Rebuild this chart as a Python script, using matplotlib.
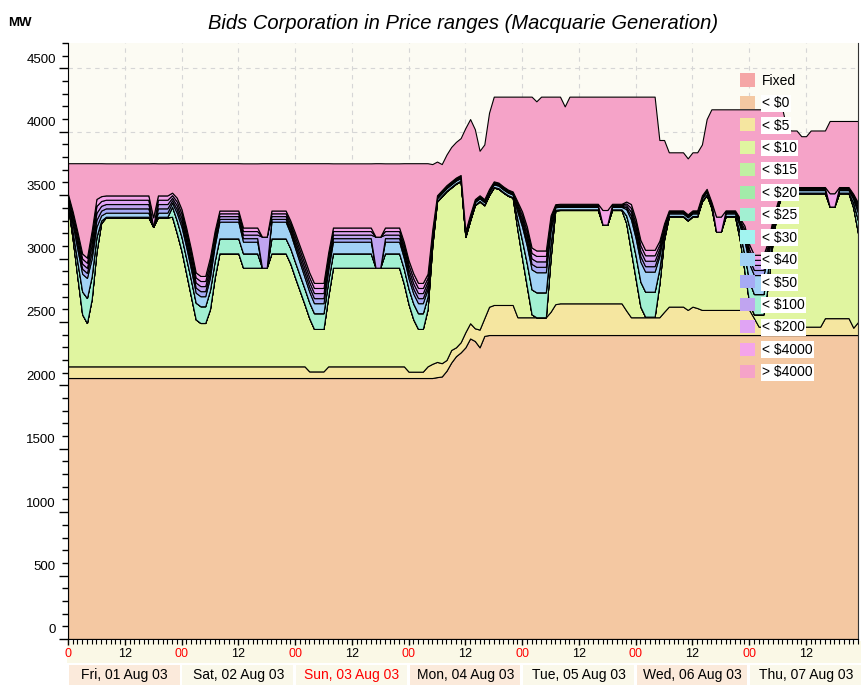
import numpy as np
import matplotlib
matplotlib.use("Agg")
import matplotlib.pyplot as plt
import matplotlib.transforms as mtransforms
from matplotlib.patches import Patch, Rectangle

plt.rcParams["font.family"] = ["Liberation Sans", "DejaVu Sans"]

# hourly samples, Fri 01 Aug 03 00:00 -> Thu 07 Aug 03 23:00
hours = np.arange(168)

bands = ["Fixed", r"< \$0", r"< \$5", r"< \$10", r"< \$15", r"< \$20", r"< \$25",
         r"< \$30", r"< \$40", r"< \$50", r"< \$100", r"< \$200", r"< \$4000", r"> \$4000"]
band_colors = ["#f5a6a6", "#f4c8a2", "#f5e6a0", "#e0f5a0", "#bff0a2", "#a2eba9",
               "#a2f0d2", "#a2f4f0", "#a2d2f5", "#a6aaf5", "#c0a4f0", "#e0a4f4",
               "#f4a4ea", "#f5a3c8"]

day_labels = ["Fri, 01 Aug 03", "Sat, 02 Aug 03", "Sun, 03 Aug 03", "Mon, 04 Aug 03",
              "Tue, 05 Aug 03", "Wed, 06 Aug 03", "Thu, 07 Aug 03"]

# MW offered in each price band (one row of 12 = half a day)
fixed = [0] * 168

lt0 = [2058, 2058, 2058, 2058, 2058, 2058, 2058, 2058, 2058, 2058, 2058, 2058,
       2058, 2058, 2058, 2058, 2058, 2058, 2058, 2058, 2058, 2058, 2058, 2058,
       2058, 2058, 2058, 2058, 2058, 2058, 2058, 2058, 2058, 2058, 2058, 2058,
       2058, 2058, 2058, 2058, 2058, 2058, 2058, 2058, 2058, 2058, 2058, 2058,
       2058, 2058, 2058, 2058, 2058, 2058, 2058, 2058, 2058, 2058, 2058, 2058,
       2058, 2058, 2058, 2058, 2058, 2058, 2058, 2058, 2058, 2058, 2058, 2058,
       2058, 2058, 2058, 2058, 2058, 2058, 2065, 2070, 2115, 2180, 2230, 2260,
       2300, 2370, 2350, 2300, 2390, 2397, 2397, 2397, 2397, 2397, 2397, 2397,
       2397, 2397, 2397, 2397, 2397, 2397, 2397, 2397, 2397, 2397, 2397, 2397,
       2397, 2397, 2397, 2397, 2397, 2397, 2397, 2397, 2397, 2397, 2397, 2397,
       2397, 2397, 2397, 2397, 2397, 2397, 2397, 2397, 2397, 2397, 2397, 2397,
       2397, 2397, 2397, 2397, 2397, 2397, 2397, 2397, 2397, 2397, 2397, 2397,
       2397, 2397, 2397, 2397, 2397, 2397, 2397, 2397, 2397, 2397, 2397, 2397,
       2397, 2397, 2397, 2397, 2397, 2397, 2397, 2397, 2397, 2397, 2397, 2397]

lt5 = [92, 92, 92, 92, 92, 92, 92, 92, 92, 92, 92, 92,
       92, 92, 92, 92, 92, 92, 92, 92, 92, 92, 92, 92,
       92, 92, 92, 92, 92, 92, 92, 92, 92, 92, 92, 92,
       92, 92, 92, 92, 92, 92, 92, 92, 92, 92, 92, 92,
       92, 92, 92, 52, 52, 52, 52, 92, 92, 92, 92, 92,
       92, 92, 92, 92, 92, 92, 92, 92, 92, 92, 92, 92,
       50, 50, 50, 50, 92, 112, 120, 105, 85, 99, 70, 80,
       120, 120, 100, 140, 140, 223, 237, 237, 237, 237, 237, 140,
       140, 140, 140, 140, 140, 140, 183, 243, 250, 250, 250, 250,
       250, 250, 250, 250, 250, 250, 250, 250, 250, 250, 193, 140,
       140, 140, 140, 140, 140, 140, 183, 224, 224, 224, 224, 198,
       224, 213, 198, 198, 198, 198, 198, 198, 198, 198, 198, 198,
       198, 133, 66, 66, 66, 66, 66, 66, 66, 66, 66, 66,
       66, 66, 66, 66, 133, 133, 133, 133, 133, 133, 58, 103]

lt10 = [1270, 1000, 700, 410, 342, 530, 900, 1130, 1175, 1175, 1175, 1175,
        1175, 1175, 1175, 1175, 1175, 1175, 1100, 1175, 1175, 1175, 1180, 1050,
        910, 730, 550, 370, 342, 342, 450, 700, 891, 891, 891, 891,
        891, 778, 778, 778, 778, 778, 778, 891, 891, 891, 891, 810,
        700, 595, 490, 420, 335, 335, 335, 550, 778, 778, 778, 778,
        778, 778, 778, 778, 778, 778, 778, 778, 778, 778, 778, 650,
        532, 412, 337, 337, 450, 930, 1265, 1315, 1330, 1281, 1290, 1270,
        750, 810, 970, 1010, 890, 880, 926, 916, 886, 861, 846, 693,
        463, 243, 23, 0, 0, 0, 420, 740, 736, 736, 736, 736,
        736, 736, 736, 736, 736, 621, 621, 736, 736, 736, 690, 523,
        303, 83, 5, 5, 5, 263, 570, 710, 710, 710, 710, 705,
        710, 721, 855, 906, 805, 617, 617, 736, 736, 736, 555, 305,
        55, 30, 97, 97, 337, 687, 937, 1052, 1052, 1052, 1052, 1052,
        1052, 1052, 1052, 1052, 985, 880, 880, 985, 985, 985, 945, 700]

lt15 = [0] * 168
lt20 = [0] * 168

lt25 = [15, 60, 120, 180, 197, 180, 120, 20, 5, 5, 5, 5,
        5, 5, 5, 5, 5, 5, 0, 5, 5, 5, 80, 100,
        110, 120, 130, 132, 132, 132, 150, 130, 118, 118, 118, 118,
        118, 113, 113, 113, 113, 0, 0, 118, 118, 118, 118, 120,
        122, 122, 123, 124, 124, 124, 124, 124, 113, 113, 113, 113,
        113, 113, 113, 113, 113, 0, 0, 113, 113, 113, 113, 118,
        120, 124, 124, 124, 100, 40, 5, 5, 5, 5, 5, 5,
        5, 5, 5, 5, 5, 5, 5, 5, 5, 5, 5, 80,
        140, 180, 197, 197, 197, 197, 120, 5, 5, 5, 5, 5,
        5, 5, 5, 5, 5, 0, 0, 5, 5, 5, 60, 140,
        180, 197, 197, 197, 197, 120, 40, 5, 5, 5, 5, 5,
        5, 5, 5, 5, 5, 0, 0, 5, 5, 5, 60, 130,
        170, 160, 160, 160, 120, 60, 5, 5, 5, 5, 5, 5,
        5, 5, 5, 5, 5, 0, 0, 5, 5, 5, 40, 100]

lt30 = [0] * 168

lt40 = [25, 60, 100, 140, 158, 140, 80, 40, 32, 32, 32, 32,
        32, 32, 32, 32, 32, 32, 0, 32, 32, 32, 30, 60,
        80, 90, 85, 79, 79, 79, 100, 120, 132, 132, 132, 132,
        132, 92, 92, 92, 92, 0, 0, 132, 132, 132, 132, 120,
        110, 100, 90, 85, 79, 79, 79, 85, 92, 92, 92, 92,
        92, 92, 92, 92, 92, 0, 0, 92, 92, 92, 92, 85,
        82, 79, 79, 79, 60, 30, 20, 20, 20, 20, 20, 20,
        20, 20, 20, 20, 20, 20, 20, 20, 20, 20, 20, 60,
        110, 140, 158, 158, 158, 158, 100, 20, 20, 20, 20, 20,
        20, 20, 20, 20, 20, 0, 0, 20, 20, 20, 50, 110,
        140, 158, 158, 158, 158, 100, 40, 20, 20, 20, 20, 20,
        20, 20, 20, 20, 20, 0, 0, 20, 20, 20, 50, 110,
        140, 150, 150, 150, 100, 50, 20, 20, 20, 20, 20, 20,
        20, 20, 20, 20, 20, 0, 0, 20, 20, 20, 30, 60]

lt50 = [12, 25, 35, 40, 40, 55, 55, 38, 34, 34, 34, 34,
        34, 34, 34, 34, 34, 34, 0, 34, 34, 34, 20, 30,
        35, 38, 40, 40, 40, 40, 40, 30, 22, 22, 22, 22,
        22, 28, 28, 28, 28, 0, 0, 22, 22, 22, 22, 25,
        30, 33, 36, 38, 40, 40, 40, 35, 28, 28, 28, 28,
        28, 28, 28, 28, 28, 0, 0, 28, 28, 28, 28, 32,
        36, 40, 40, 40, 30, 15, 6, 6, 6, 6, 6, 6,
        6, 6, 6, 6, 6, 6, 6, 6, 6, 6, 6, 20,
        30, 38, 43, 43, 43, 43, 30, 6, 6, 6, 6, 6,
        6, 6, 6, 6, 6, 0, 0, 6, 6, 6, 15, 30,
        38, 43, 43, 43, 43, 30, 12, 6, 6, 6, 6, 6,
        6, 6, 6, 6, 6, 0, 0, 6, 6, 6, 15, 30,
        38, 40, 40, 40, 30, 15, 6, 6, 6, 6, 6, 6,
        6, 6, 6, 6, 6, 0, 0, 6, 6, 6, 10, 20]

lt100 = [12, 25, 35, 40, 40, 55, 55, 38, 34, 34, 34, 34,
         34, 34, 34, 34, 34, 34, 0, 34, 34, 34, 20, 30,
         35, 38, 40, 40, 40, 40, 40, 30, 22, 22, 22, 22,
         22, 28, 28, 28, 28, 245, 245, 22, 22, 22, 22, 25,
         30, 33, 36, 38, 40, 40, 40, 35, 28, 28, 28, 28,
         28, 28, 28, 28, 28, 245, 245, 28, 28, 28, 28, 32,
         36, 40, 40, 40, 30, 15, 6, 6, 6, 6, 6, 6,
         6, 6, 6, 6, 6, 6, 6, 6, 6, 6, 6, 20,
         30, 38, 43, 43, 43, 43, 30, 6, 6, 6, 6, 6,
         6, 6, 6, 6, 6, 0, 0, 6, 6, 6, 15, 30,
         38, 43, 43, 43, 43, 30, 12, 6, 6, 6, 6, 6,
         6, 6, 6, 6, 6, 0, 0, 6, 6, 6, 15, 30,
         38, 40, 40, 40, 30, 15, 6, 6, 6, 6, 6, 6,
         6, 6, 6, 6, 6, 0, 0, 6, 6, 6, 10, 20]

lt200 = [12, 25, 35, 40, 40, 55, 55, 38, 34, 34, 34, 34,
         34, 34, 34, 34, 34, 34, 0, 34, 34, 34, 20, 30,
         35, 38, 40, 40, 40, 40, 40, 30, 22, 22, 22, 22,
         22, 28, 28, 28, 28, 0, 0, 22, 22, 22, 22, 25,
         30, 33, 36, 38, 40, 40, 40, 35, 28, 28, 28, 28,
         28, 28, 28, 28, 28, 0, 0, 28, 28, 28, 28, 32,
         36, 40, 40, 40, 30, 15, 6, 6, 6, 6, 6, 6,
         6, 6, 6, 6, 6, 6, 6, 6, 6, 6, 6, 20,
         30, 38, 43, 43, 43, 43, 30, 6, 6, 6, 6, 6,
         6, 6, 6, 6, 6, 0, 0, 6, 6, 6, 15, 30,
         38, 43, 43, 43, 43, 30, 12, 6, 6, 6, 6, 6,
         6, 6, 6, 6, 6, 0, 0, 6, 6, 6, 15, 30,
         38, 40, 40, 40, 30, 15, 6, 6, 6, 6, 6, 6,
         6, 6, 6, 6, 6, 0, 0, 6, 6, 6, 10, 20]

lt4000 = [12, 25, 35, 40, 40, 55, 55, 38, 34, 34, 34, 34,
          34, 34, 34, 34, 34, 34, 75, 34, 34, 34, 20, 30,
          35, 38, 40, 40, 40, 40, 40, 30, 22, 22, 22, 22,
          22, 28, 28, 28, 28, 0, 0, 22, 22, 22, 22, 25,
          30, 33, 36, 38, 40, 40, 40, 35, 28, 28, 28, 28,
          28, 28, 28, 28, 28, 0, 0, 28, 28, 28, 28, 32,
          36, 40, 40, 40, 30, 15, 6, 6, 6, 6, 6, 6,
          6, 6, 6, 6, 6, 6, 6, 6, 6, 6, 6, 20,
          30, 38, 43, 43, 43, 43, 30, 6, 6, 6, 6, 6,
          6, 6, 6, 6, 6, 115, 115, 6, 6, 6, 15, 30,
          38, 43, 43, 43, 43, 30, 12, 6, 6, 6, 6, 6,
          6, 6, 6, 6, 6, 119, 119, 6, 6, 6, 15, 30,
          38, 40, 40, 40, 30, 15, 6, 6, 6, 6, 6, 6,
          6, 6, 6, 6, 6, 105, 105, 6, 6, 6, 10, 20]

gt4000 = [244, 382, 542, 712, 745, 532, 282, 260, 253, 253, 253, 253,
          253, 253, 253, 253, 253, 253, 427, 253, 253, 253, 232, 272,
          362, 510, 677, 861, 889, 889, 742, 532, 373, 373, 373, 373,
          373, 506, 506, 506, 506, 579, 579, 373, 373, 373, 373, 452,
          550, 653, 755, 861, 944, 944, 944, 703, 506, 506, 506, 506,
          506, 506, 506, 506, 506, 579, 579, 506, 506, 506, 506, 621,
          766, 869, 944, 944, 872, 515, 266, 206, 241, 271, 281, 291,
          811, 751, 551, 351, 431, 601, 668, 678, 708, 733, 748, 827,
          907, 1025, 1190, 1176, 1213, 1213, 937, 848, 845, 768, 845, 845,
          845, 845, 845, 845, 845, 894, 894, 845, 845, 845, 827, 847,
          965, 1130, 1208, 1208, 1208, 795, 657, 458, 458, 458, 458, 441,
          458, 458, 401, 550, 728, 846, 846, 797, 797, 797, 857, 917,
          1065, 1147, 1147, 1147, 1037, 857, 728, 613, 450, 446, 446, 401,
          401, 446, 446, 446, 446, 570, 570, 521, 521, 521, 575, 645]

series = [fixed, lt0, lt5, lt10, lt15, lt20, lt25, lt30, lt40,
          lt50, lt100, lt200, lt4000, gt4000]

PX = 72 / 100  # points per pixel at 100 dpi

fig = plt.figure(figsize=(8.62, 6.89), dpi=100)
ax = fig.add_axes([0.0789, 0.0726, 0.9165, 0.865])
ax.set_facecolor("#fcfbf3")
ax.set_axisbelow(True)

ax.stackplot(hours, *series, colors=band_colors, edgecolor="black", linewidth=0.8)

ax.set_xlim(0, 167)
ax.set_ylim(0, 4700)

# y axis
ax.set_yticks(np.arange(0, 4501, 500))
ax.set_yticks(np.arange(0, 4701, 100), minor=True)
ax.tick_params(axis="y", which="major", length=9 * PX, width=1, pad=3 * PX, labelsize=9.5)
ax.tick_params(axis="y", which="minor", length=6 * PX, width=1)
shift = mtransforms.ScaledTranslation(0, 10 / 100, fig.dpi_scale_trans)
for lab in ax.get_yticklabels():
    lab.set_transform(lab.get_transform() + shift)

# x axis: ticks every 12h, minor hourly
xt = np.arange(0, 168, 12)
ax.set_xticks(xt)
ax.set_xticks(hours, minor=True)
xl = []
for t in xt:
    if t == 0:
        xl.append("0")
    elif t % 24 == 0:
        xl.append("00")
    else:
        xl.append("12")
ax.set_xticklabels(xl)
for lab, t in zip(ax.get_xticklabels(), xt):
    if t % 24 == 0:
        lab.set_color("red")
ax.tick_params(axis="x", which="major", length=6 * PX, width=1, pad=2, labelsize=9)
ax.tick_params(axis="x", which="minor", length=5 * PX, width=0.8)

ax.grid(True, which="major", linestyle=(0, (4, 4)), color="#d6d6d6", linewidth=0.8)
ax.spines["top"].set_visible(False)
ax.spines["right"].set_color("#333333")

# strip behind the hour labels and the day boxes
trans = mtransforms.blended_transform_factory(ax.transData, ax.transAxes)
ax.add_patch(Rectangle((-0.3, -0.041), 168.5, 0.038, transform=trans,
                       facecolor="#faf8e6", edgecolor="none", clip_on=False, zorder=0.2))
box_colors = ["#fbeadb", "#faf8ea", "#faf8ea", "#fbeadb", "#faf8ea", "#fbeadb", "#faf8ea"]
for d, (lab, bc) in enumerate(zip(day_labels, box_colors)):
    ax.add_patch(Rectangle((24 * d + 0.2, -0.077), 23.4, 0.033, transform=trans,
                           facecolor=bc, edgecolor="none", clip_on=False, zorder=0.2))
    ax.text(24 * d + 12, -0.0605, lab, transform=trans, ha="center", va="center",
            fontsize=10, color="red" if lab.startswith("Sun") else "black")

ax.set_title("Bids Corporation in Price ranges (Macquarie Generation)",
             fontsize=14.5, fontstyle="italic", pad=10)
fig.text(8 / 862, 1 - 23 / 689, "MW", fontsize=9.5, fontweight="bold", va="center")

handles = [Patch(facecolor=c, edgecolor="none") for c in band_colors]
leg = ax.legend(handles, bands, loc="upper left", bbox_to_anchor=(0.8506, 0.949),
                frameon=False, fontsize=10, handlelength=1.08, handleheight=1.08,
                handletextpad=0.5, labelspacing=0.585, borderaxespad=0, borderpad=0)
for t in leg.get_texts()[1:]:
    t.set_bbox(dict(facecolor="white", edgecolor="none", pad=1))

fig.savefig("out.png", dpi=100)
